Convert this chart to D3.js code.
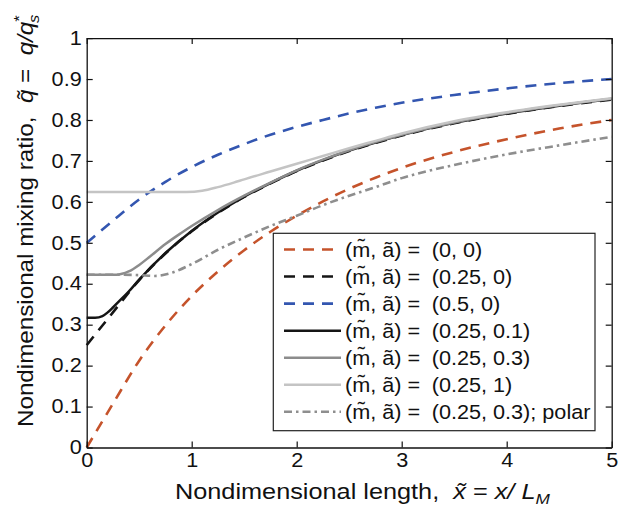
<!DOCTYPE html>
<html>
<head>
<meta charset="utf-8">
<script src="https://cdn.jsdelivr.net/npm/d3@7"></script>
<style>
  html, body { margin: 0; padding: 0; background: #fff; }
  svg { display: block; }
  text { font-family: "Liberation Sans", Arial, Helvetica, sans-serif; fill: #111; white-space: pre; }
</style>
</head>
<body>
<svg id="chart" width="632" height="506"></svg>
<script>
// ---------------- data ----------------
const xMain = [0, 0.25, 0.5, 0.75, 1, 1.25, 1.5, 1.75, 2, 2.25, 2.5, 2.75, 3, 3.5, 4, 4.5, 5];
const q_m0_a0    = [0, 0.107, 0.212, 0.298, 0.37, 0.43, 0.482, 0.527, 0.566, 0.601, 0.632, 0.659, 0.683, 0.722, 0.753, 0.779, 0.80];
const q_m025_a0  = [0.25, 0.33, 0.409, 0.474, 0.528, 0.573, 0.612, 0.645, 0.675, 0.701, 0.724, 0.744, 0.762, 0.792, 0.815, 0.834, 0.85];
const q_m05_a0   = [0.5, 0.554, 0.606, 0.649, 0.685, 0.715, 0.741, 0.764, 0.783, 0.80, 0.816, 0.83, 0.842, 0.861, 0.877, 0.89, 0.90];

const x_a01 = [0, 0.08, 0.15, 0.2, 0.25, 0.3, 0.4, 0.5, 0.75, 1, 1.25, 1.5, 1.75, 2, 2.25, 2.5, 2.75, 3, 3.5, 4, 4.5, 5];
const q_a01 = [0.317, 0.317, 0.321, 0.330, 0.342, 0.355, 0.381, 0.41, 0.475, 0.529, 0.574, 0.613, 0.646, 0.676, 0.702, 0.725, 0.745, 0.763, 0.793, 0.816, 0.835, 0.851];

const x_a03 = [0, 0.28, 0.4, 0.5, 0.6, 0.75, 0.9, 1, 1.25, 1.5, 1.75, 2, 2.25, 2.5, 2.75, 3, 3.5, 4, 4.5, 5];
const q_a03 = [0.422, 0.422, 0.430, 0.446, 0.466, 0.497, 0.524, 0.541, 0.58, 0.615, 0.647, 0.677, 0.703, 0.726, 0.746, 0.764, 0.794, 0.817, 0.836, 0.852];

const x_a1 = [0, 0.95, 1.1, 1.25, 1.4, 1.5, 1.75, 2, 2.25, 2.5, 2.75, 3, 3.5, 4, 4.5, 5];
const q_a1 = [0.624, 0.624, 0.627, 0.636, 0.647, 0.655, 0.674, 0.693, 0.712, 0.731, 0.749, 0.767, 0.797, 0.819, 0.837, 0.853];

const x_polar = [0, 0.3, 0.5, 0.65, 0.8, 1, 1.25, 1.5, 1.75, 2, 2.25, 2.5, 2.75, 3, 3.5, 4, 4.5, 5];
const q_polar = [0.422, 0.422, 0.421, 0.419, 0.426, 0.448, 0.483, 0.513, 0.541, 0.566, 0.592, 0.615, 0.636, 0.658, 0.69, 0.716, 0.738, 0.759];

const legendValues = ["(0, 0)", "(0.25, 0)", "(0.5, 0)", "(0.25, 0.1)", "(0.25, 0.3)", "(0.25, 1)", "(0.25, 0.3); polar"];

const xTicks = [0, 1, 2, 3, 4, 5];
const xTickLabels = ["0", "1", "2", "3", "4", "5"];
const yTicks = [0, 0.1, 0.2, 0.3, 0.4, 0.5, 0.6, 0.7, 0.8, 0.9, 1];
const yTickLabels = ["0", "0.1", "0.2", "0.3", "0.4", "0.5", "0.6", "0.7", "0.8", "0.9", "1"];

// ---------------- series styles ----------------
const series = [
  { xs: xMain,   ys: q_m0_a0,   color: "#c5532b", width: 2.6, dash: "11,8" },
  { xs: xMain,   ys: q_m025_a0, color: "#151515", width: 2.6, dash: "11,8" },
  { xs: xMain,   ys: q_m05_a0,  color: "#3356b0", width: 2.6, dash: "11,8" },
  { xs: x_a01,   ys: q_a01,     color: "#151515", width: 2.5, dash: null },
  { xs: x_a03,   ys: q_a03,     color: "#8c8c8c", width: 2.5, dash: null },
  { xs: x_a1,    ys: q_a1,      color: "#c4c4c4", width: 2.5, dash: null },
  { xs: x_polar, ys: q_polar,   color: "#8e8e8e", width: 2.6, dash: "8,4,2.5,4" }
];

// ---------------- layout ----------------
const svg = d3.select("#chart");
const L = 86.7, R = 611.7, T = 38.1, B = 447.5;
const x = d3.scaleLinear().domain([0, 5]).range([L, R]);
const y = d3.scaleLinear().domain([0, 1]).range([B, T]);

const SX = 1.11;
function stretch(sel, s) {
  sel.attr("transform", function () {
    const ax = +this.getAttribute("x") || 0;
    return `translate(${ax},0) scale(${s},1) translate(${-ax},0)`;
  });
}

// lines
const line = d3.line().x(d => x(d[0])).y(d => y(d[1])).curve(d3.curveMonotoneX);
const gLines = svg.append("g");
series.forEach(s => {
  const pts = s.xs.map((v, i) => [v, s.ys[i]]);
  gLines.append("path")
    .attr("d", line(pts))
    .attr("fill", "none")
    .attr("stroke", s.color)
    .attr("stroke-width", s.width)
    .attr("stroke-dasharray", s.dash)
    .attr("stroke-linejoin", "round");
});

// axes
function styleAxis(g) {
  g.select(".domain").attr("stroke", "#111").attr("stroke-width", 1.3);
  g.selectAll(".tick line").attr("stroke", "#111").attr("stroke-width", 1.2);
  g.selectAll("text").attr("font-size", 19.5).attr("fill", "#111")
    .attr("font-family", '"Liberation Sans", Arial, sans-serif');
}
const gx = svg.append("g").attr("transform", `translate(0,${B})`)
  .call(d3.axisBottom(x).tickValues(xTicks).tickFormat((d, i) => xTickLabels[i])
    .tickSizeInner(-6).tickSizeOuter(0).tickPadding(6));
styleAxis(gx); stretch(gx.selectAll("text"), SX);

const gy = svg.append("g").attr("transform", `translate(${L},0)`)
  .call(d3.axisLeft(y).tickValues(yTicks).tickFormat((d, i) => yTickLabels[i])
    .tickSizeInner(-6).tickSizeOuter(0).tickPadding(5));
styleAxis(gy); stretch(gy.selectAll("text"), SX);

const gt = svg.append("g").attr("transform", `translate(0,${T})`)
  .call(d3.axisTop(x).tickValues(xTicks).tickFormat("").tickSizeInner(-6).tickSizeOuter(0));
styleAxis(gt);
const gr = svg.append("g").attr("transform", `translate(${R},0)`)
  .call(d3.axisRight(y).tickValues(yTicks).tickFormat("").tickSizeInner(-6).tickSizeOuter(0));
styleAxis(gr);

// legend
const lg = svg.append("g");
lg.append("rect").attr("x", 273.3).attr("y", 233.3).attr("width", 321.7).attr("height", 197.4)
  .attr("fill", "#fff").attr("stroke", "#222").attr("stroke-width", 1.2);
legendValues.forEach((v, i) => {
  const s = series[i];
  const cy = 249.5 + i * 27.05;
  lg.append("line").attr("x1", 284).attr("x2", 341).attr("y1", cy).attr("y2", cy)
    .attr("stroke", s.color).attr("stroke-width", s.width).attr("stroke-dasharray", s.dash);
  const t1 = lg.append("text").attr("x", 345).attr("y", cy).attr("dy", "0.36em").attr("font-size", 19.5)
    .text("(m\u0303, \u00e3) =");
  stretch(t1, SX);
  const t2 = lg.append("text").attr("x", 431.7).attr("y", cy).attr("dy", "0.36em").attr("font-size", 19.5)
    .text(v);
  stretch(t2, SX);
});

// x title
const xt = svg.append("text").attr("x", 175).attr("y", 499).attr("font-size", 22);
xt.append("tspan").text("Nondimensional length,  ");
xt.append("tspan").attr("font-style", "italic").text("x\u0303");
xt.append("tspan").text(" = ");
xt.append("tspan").attr("font-style", "italic").text("x/ L");
xt.append("tspan").attr("font-style", "italic").attr("font-size", 15).attr("dy", 5).text("M");
stretch(xt, 1.15);

// y title
const yt = svg.append("text").attr("x", 0).attr("y", 0).attr("font-size", 22)
  .attr("transform", "translate(33,427) rotate(-90) scale(1.1,1)");
yt.append("tspan").text("Nondimensional mixing ratio,  ");
yt.append("tspan").attr("font-style", "italic").text("q\u0303");
yt.append("tspan").text(" =  ");
yt.append("tspan").attr("font-style", "italic").text("q/q");
yt.append("tspan").attr("font-size", 15).attr("dy", -9).text("*");
yt.append("tspan").attr("font-style", "italic").attr("font-size", 15).attr("dx", -7).attr("dy", 15).text("s");
</script>
</body>
</html>
